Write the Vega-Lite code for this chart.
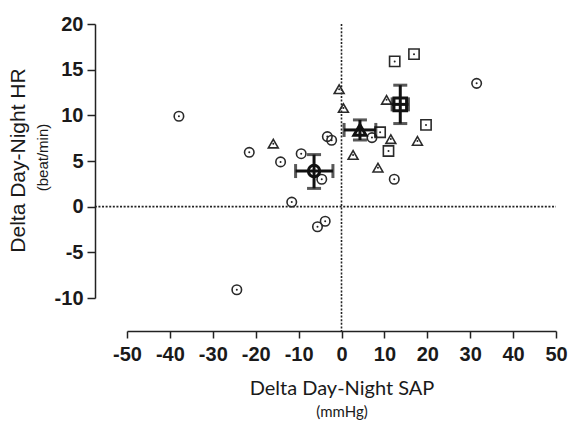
{
  "$schema": "https://vega.github.io/schema/vega-lite/v6.json",
  "width": 429,
  "height": 274,
  "autosize": "none",
  "padding": {"left": 127, "top": 24, "right": 15, "bottom": 127},
  "background": "white",
  "config": {
    "view": {"stroke": null},
    "axis": {"grid": false, "labelFont": "Liberation Sans", "labelFontSize": 20, "labelFontWeight": "bold", "labelColor": "#1a1a1a",
      "labelOverlap": false, "labelFlush": false, "tickWidth": 1.5, "tickColor": "#222", "domainWidth": 1.5, "domainColor": "#222",
      "titleFontWeight": "normal", "titleColor": "#1a1a1a", "titleBaseline": "alphabetic", "titleAlign": "center", "labelExpr": "toString(datum.value)"},
    "axisX": {"offset": 33, "labelPadding": 6, "tickSize": 7},
    "axisY": {"offset": 32, "labelPadding": 4, "tickSize": 8}
  },
  "datasets": {
    "points": [
      {"g": "circle", "x": -37.9, "y": 9.9},
      {"g": "circle", "x": -21.5, "y": 5.95},
      {"g": "circle", "x": -14.2, "y": 4.9},
      {"g": "circle", "x": -9.4, "y": 5.8},
      {"g": "circle", "x": -4.6, "y": 3.0},
      {"g": "circle", "x": -3.3, "y": 7.67},
      {"g": "circle", "x": -2.3, "y": 7.27},
      {"g": "circle", "x": -11.6, "y": 0.5},
      {"g": "circle", "x": -5.6, "y": -2.2},
      {"g": "circle", "x": -3.8, "y": -1.6},
      {"g": "circle", "x": -24.4, "y": -9.1},
      {"g": "circle", "x": 31.5, "y": 13.5},
      {"g": "circle", "x": 7.1, "y": 7.56},
      {"g": "circle", "x": 12.3, "y": 3.0},
      {"g": "triangle", "x": -15.9, "y": 6.9},
      {"g": "triangle", "x": -0.55, "y": 12.86},
      {"g": "triangle", "x": 0.45, "y": 10.8},
      {"g": "triangle", "x": 10.5, "y": 11.7},
      {"g": "triangle", "x": 11.5, "y": 7.4},
      {"g": "triangle", "x": 17.7, "y": 7.2},
      {"g": "triangle", "x": 2.7, "y": 5.66},
      {"g": "triangle", "x": 8.5, "y": 4.27},
      {"g": "square", "x": 12.4, "y": 15.9},
      {"g": "square", "x": 16.9, "y": 16.7},
      {"g": "square", "x": 9.0, "y": 8.15},
      {"g": "square", "x": 10.95, "y": 6.1},
      {"g": "square", "x": 19.7, "y": 8.95}
    ],
    "means": [
      {"g": "circle", "mx": -6.4, "my": 3.9, "xlo": -10.7, "xhi": -2.0, "ylo": 2.0, "yhi": 5.7},
      {"g": "triangle", "mx": 4.3, "my": 8.4, "xlo": 0.6, "xhi": 8.0, "ylo": 7.3, "yhi": 9.5},
      {"g": "square", "mx": 13.7, "my": 11.2, "xlo": 11.8, "xhi": 15.6, "ylo": 9.1, "yhi": 13.3}
    ]
  },
  "layer": [
    {
      "layer": [
        {
          "data": {"values": [{"y": 0, "xs": -57.5, "xe": 50}]},
          "mark": {"type": "rule", "strokeDash": [2, 1.6], "strokeWidth": 1.6, "color": "#222"},
          "encoding": {
            "x": {"field": "xs", "type": "quantitative", "title": "(mmHg)", "scale": {"domain": [-50, 50], "nice": false, "zero": false},
              "axis": {"orient": "bottom", "labels": false, "ticks": false, "domain": false,
                "titleFont": "Lato", "titleFontSize": 15, "titleY": 85, "titleX": 214.5}},
            "x2": {"field": "xe"},
            "y": {"field": "y", "type": "quantitative", "title": "(beat/min)", "scale": {"domain": [-10, 20], "nice": false, "zero": false},
              "axis": {"orient": "left", "labels": false, "ticks": false, "domain": false,
                "titleFont": "Liberation Sans", "titleFontSize": 15, "titleX": -48, "titleY": 133, "titleAngle": -90}}
          }
        },
        {
          "data": {"values": [{"x": 0, "ys": 20, "ye": -13.6}]},
          "mark": {"type": "rule", "strokeDash": [2, 1.6], "strokeWidth": 1.6, "color": "#222"},
          "encoding": {
            "x": {"field": "x", "type": "quantitative", "title": "(mmHg)"},
            "y": {"field": "ys", "type": "quantitative", "title": "(beat/min)"},
            "y2": {"field": "ye"}
          }
        }
      ]
    },
    {
      "layer": [
        {
          "data": {"name": "points"},
          "mark": {"type": "point", "filled": false, "strokeWidth": 1.6, "color": "#2a2a2a", "opacity": 1},
          "encoding": {
            "x": {"field": "x", "type": "quantitative", "title": "Delta Day-Night SAP", "scale": {"domain": [-50, 50], "nice": false, "zero": false},
              "axis": {"orient": "bottom", "values": [-50, -40, -30, -20, -10, 0, 10, 20, 30, 40, 50],
                "titleFont": "Lato", "titleFontSize": 20, "titleY": 63, "titleX": 214.5}},
            "y": {"field": "y", "type": "quantitative", "title": "Delta Day-Night HR", "scale": {"domain": [-10, 20], "nice": false, "zero": false},
              "axis": {"orient": "left", "values": [-10, -5, 0, 5, 10, 15, 20],
                "titleFont": "Liberation Sans", "titleFontSize": 21, "titleX": -71, "titleY": 136, "titleAngle": -90}},
            "shape": {"field": "g", "type": "nominal", "scale": {"domain": ["circle", "triangle", "square"], "range": ["circle", "triangle-up", "square"]}, "legend": null},
            "size": {"field": "g", "type": "nominal", "scale": {"domain": ["circle", "triangle", "square"], "range": [90, 105, 130]}, "legend": null}
          }
        },
        {
          "data": {"name": "points"},
          "mark": {"type": "point", "filled": true, "shape": "circle", "size": 4, "color": "#222", "opacity": 1},
          "encoding": {
            "x": {"field": "x", "type": "quantitative", "title": "Delta Day-Night SAP"},
            "y": {"field": "y", "type": "quantitative", "title": "Delta Day-Night HR"}
          }
        },
        {
          "data": {"name": "means"},
          "mark": {"type": "point", "filled": false, "strokeWidth": 3, "color": "#111", "opacity": 1},
          "encoding": {
            "x": {"field": "mx", "type": "quantitative", "title": "Delta Day-Night SAP"},
            "y": {"field": "my", "type": "quantitative", "title": "Delta Day-Night HR"},
            "shape": {"field": "g", "type": "nominal", "legend": null},
            "size": {"field": "g", "type": "nominal", "scale": {"domain": ["circle", "triangle", "square"], "range": [130, 160, 180]}, "legend": null}
          }
        },
        {
          "data": {"name": "means"},
          "mark": {"type": "errorbar", "thickness": 3, "color": "#111", "ticks": {"size": 14, "thickness": 3}},
          "encoding": {
            "x": {"field": "xlo", "type": "quantitative", "title": "Delta Day-Night SAP"},
            "x2": {"field": "xhi"},
            "y": {"field": "my", "type": "quantitative", "title": "Delta Day-Night HR"}
          }
        },
        {
          "data": {"name": "means"},
          "mark": {"type": "errorbar", "thickness": 3, "color": "#111", "ticks": {"size": 14, "thickness": 3}},
          "encoding": {
            "y": {"field": "ylo", "type": "quantitative", "title": "Delta Day-Night HR"},
            "y2": {"field": "yhi"},
            "x": {"field": "mx", "type": "quantitative", "title": "Delta Day-Night SAP"}
          }
        }
      ],
      "resolve": {"scale": {"size": "independent"}}
    }
  ],
  "resolve": {"axis": {"x": "independent", "y": "independent"}}
}
